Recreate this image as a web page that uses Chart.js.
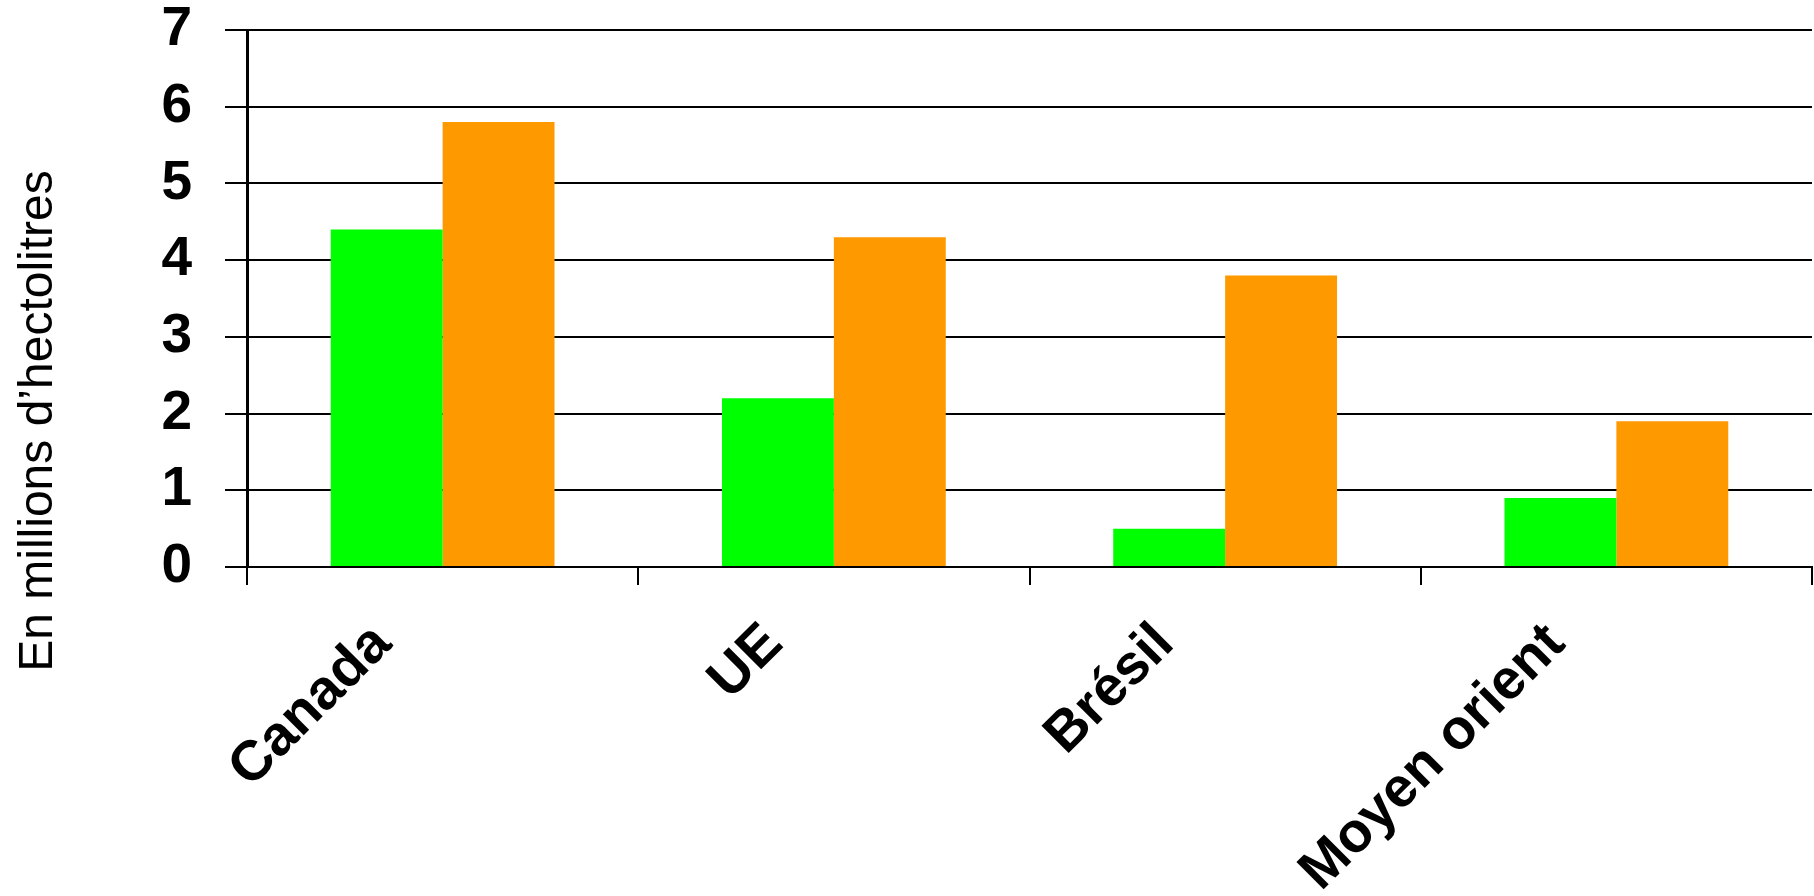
<!DOCTYPE html>
<html>
<head>
<meta charset="utf-8">
<script src="https://cdn.jsdelivr.net/npm/chart.js@4/dist/chart.umd.min.js"></script>
<style>
  html, body { margin: 0; padding: 0; background: #ffffff; }
  #wrap { position: relative; width: 1814px; height: 896px; }
</style>
</head>
<body>
<div id="wrap"><canvas id="c"></canvas></div>
<script>
const categories = ["Canada", "UE", "Brésil", "Moyen orient"];
const seriesGreen = [4.4, 2.2, 0.5, 0.9];
const seriesOrange = [5.8, 4.3, 3.8, 1.9];
const yTicks = [0, 1, 2, 3, 4, 5, 6, 7];
const yTitle = "En millions d\u2019hectolitres";

const yTitlePlugin = {
  id: 'yTitlePlugin',
  afterDraw(chart) {
    const ctx = chart.ctx;
    ctx.save();
    ctx.translate(52, 421);
    ctx.rotate(-Math.PI / 2);
    ctx.font = '48px "Liberation Sans", Arial, sans-serif';
    ctx.fillStyle = '#000';
    ctx.textAlign = 'center';
    ctx.textBaseline = 'alphabetic';
    ctx.fillText(yTitle, 0, 0);
    ctx.restore();
  }
};

new Chart(document.getElementById('c'), {
  type: 'bar',
  data: {
    labels: categories,
    datasets: [
      { label: 'Série 1', data: seriesGreen, backgroundColor: '#00FF00', borderWidth: 0,
        categoryPercentage: 0.572, barPercentage: 1.0 },
      { label: 'Série 2', data: seriesOrange, backgroundColor: '#FF9900', borderWidth: 0,
        categoryPercentage: 0.572, barPercentage: 1.0 }
    ]
  },
  options: {
    responsive: true,
    maintainAspectRatio: false,
    animation: false,
    layout: { padding: { top: 30, right: 2, left: 0, bottom: 0 } },
    plugins: { legend: { display: false }, tooltip: { enabled: false }, title: { display: false } },
    scales: {
      x: {
        offset: true,
        grid: { display: true, drawOnChartArea: false, offset: true, color: '#000', lineWidth: 2, tickLength: 18 },
        border: { display: true, color: '#000', width: 2 },
        ticks: {
          minRotation: 45, maxRotation: 45, padding: 26, labelOffset: -60,
          color: '#000',
          font: { family: '"Liberation Sans", Arial, sans-serif', size: 56, weight: 'bold' }
        },
        afterFit(scale) { scale.height = 329; }
      },
      y: {
        min: 0, max: 7,
        afterBuildTicks(scale) { scale.ticks = yTicks.map(v => ({ value: v })); },
        grid: { color: '#000', lineWidth: 2, tickLength: 22 },
        border: { display: true, color: '#000', width: 3 },
        ticks: {
          padding: 33, color: '#000',
          font: { family: '"Liberation Sans", Arial, sans-serif', size: 55, weight: 'bold', lineHeight: 1 }
        },
        afterFit(scale) { scale.width = 247; scale.paddingTop = 0; scale.paddingBottom = 0; }
      }
    }
  },
  plugins: [yTitlePlugin]
});
</script>
</body>
</html>
